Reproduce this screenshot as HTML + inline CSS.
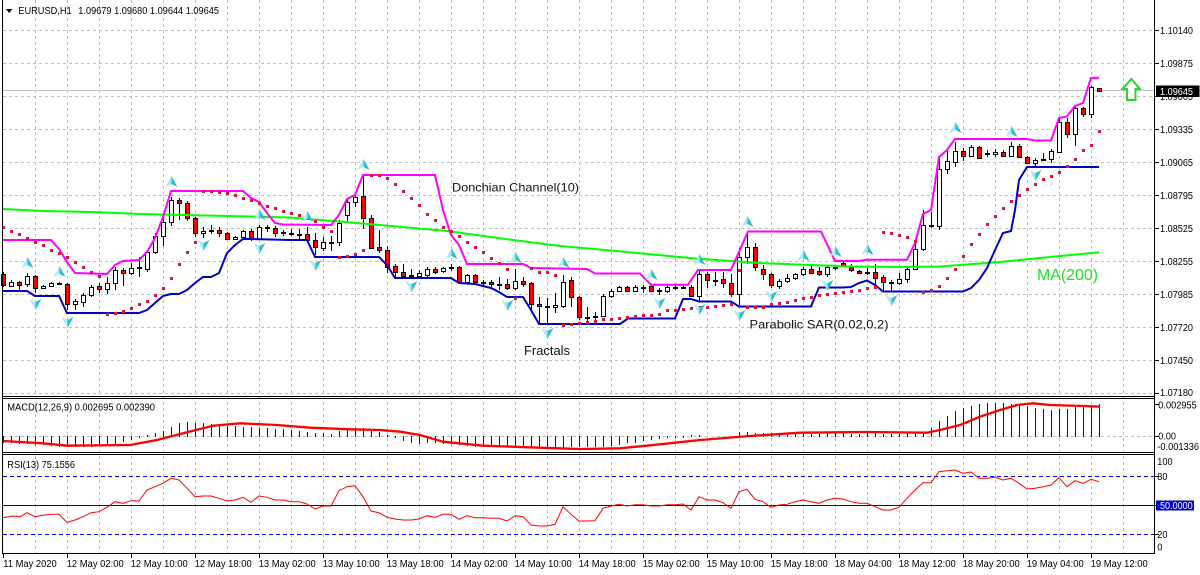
<!DOCTYPE html>
<html><head><meta charset="utf-8"><style>
html,body{margin:0;padding:0;background:#fff;}
svg{display:block;font-family:"Liberation Sans",Arial,sans-serif;}
</style></head><body>
<svg width="1200" height="575" viewBox="0 0 1200 575" xmlns="http://www.w3.org/2000/svg">
<rect width="1200" height="575" fill="#fff"/>
<!-- vertical grid -->
<path d="M35.5 0V553M67.5 0V553M99.5 0V553M131.5 0V553M163.5 0V553M195.5 0V553M227.5 0V553M259.5 0V553M291.5 0V553M323.5 0V553M355.5 0V553M387.5 0V553M419.5 0V553M451.5 0V553M483.5 0V553M515.5 0V553M547.5 0V553M579.5 0V553M611.5 0V553M643.5 0V553M675.5 0V553M707.5 0V553M739.5 0V553M771.5 0V553M803.5 0V553M835.5 0V553M867.5 0V553M899.5 0V553M931.5 0V553M963.5 0V553M995.5 0V553M1027.5 0V553M1059.5 0V553M1091.5 0V553M1123.5 0V553" stroke="#c0c0c0" stroke-width="1" stroke-dasharray="3 3" fill="none"/>
<!-- horizontal grid main -->
<path d="M3 30.5H1154M3 63.5H1154M3 96.5H1154M3 129.5H1154M3 162.5H1154M3 195.5H1154M3 228.5H1154M3 261.5H1154M3 294.5H1154M3 327.5H1154M3 360.5H1154M3 393.5H1154M3 436.5H1154" stroke="#c0c0c0" stroke-width="1" stroke-dasharray="3 3" fill="none"/>
<!-- current price line -->
<path d="M3 90.5H1154" stroke="#c0c0c0" stroke-width="1"/>

<!-- candles wicks -->
<path d="M3.5 272V287M11.5 280V287M19.5 281V290M27.5 273V287M35.5 275V293M43.5 285V289M51.5 282V287M59.5 282V285M67.5 283V310M75.5 299V310M83.5 293V307M91.5 285V297M99.5 283V293M107.5 277V294M115.5 267V290M123.5 268V286M131.5 263V275M139.5 257V277M147.5 250V272M155.5 233V254M163.5 216V246M171.5 197V226M179.5 198V220M187.5 201V221M195.5 217V237M203.5 227V238M211.5 225V234M219.5 227V237M227.5 232V240M235.5 236V240M243.5 230V239M251.5 229V241M259.5 225V240M267.5 225V232M275.5 226V237M283.5 230V236M291.5 229V236M299.5 229V239M307.5 227V242M315.5 233V255M323.5 237V251M331.5 236V251M339.5 220V246M347.5 198V221M355.5 196V207M363.5 176V229M371.5 215V249M379.5 230V253M387.5 246V273M395.5 264V277M403.5 264V279M411.5 269V278M419.5 270V278M427.5 267V277M435.5 267V274M443.5 267V273M451.5 264V271M459.5 266V283M467.5 274V283M475.5 274V284M483.5 280V286M491.5 280V287M499.5 277V290M507.5 279V290M515.5 269V290M523.5 277V287M531.5 282V313M539.5 297V323M547.5 298V323M555.5 293V313M563.5 275V308M571.5 277V307M579.5 296V320M587.5 307V321M595.5 312V321M603.5 294V317M611.5 289V298M619.5 286V292M627.5 286V292M635.5 285V292M643.5 285V293M651.5 285V292M659.5 288V295M667.5 286V293M675.5 285V290M683.5 286V289M691.5 285V297M699.5 271V301M707.5 272V288M715.5 272V286M723.5 272V288M731.5 274V297M739.5 248V305M747.5 233V264M755.5 243V271M763.5 265V280M771.5 273V288M779.5 279V289M787.5 274V283M795.5 273V280M803.5 267V276M811.5 265V274M819.5 267V276M827.5 265V277M835.5 265V270M843.5 262V267M851.5 264V272M859.5 270V274M867.5 268V275M875.5 264V285M883.5 275V292M891.5 280V292M899.5 273V285M907.5 267V283M915.5 242V270M923.5 210V251M931.5 212V228M939.5 157V230M947.5 151V174M955.5 142V167M963.5 148V161M971.5 145V157M979.5 146V159M987.5 150V157M995.5 149V157M1003.5 150V157M1011.5 142V157M1019.5 144V158M1027.5 156V164M1035.5 158V166M1043.5 153V160M1051.5 149V163M1059.5 118V153M1067.5 118V138M1075.5 106V146M1083.5 107V117M1091.5 86V118M1099.5 88V91" stroke="#000" stroke-width="1" fill="none"/>
<!-- doji -->
<path d="M57 284h5M137 268h5M209 231h5M265 228h5M281 233h5M289 234h5M297 235h5M329 243h5M409 276h5M449 268h5M481 283h5M497 285h5M545 307h5M585 318h5M593 317h5M641 288h5M657 291h5M673 288h5M681 288h5M713 281h5M833 268h5M865 273h5M889 283h5M929 226h5M985 154h5M1041 160h5" stroke="#000" stroke-width="2" fill="none"/>
<!-- white bodies -->
<g fill="#fff" stroke="#000" stroke-width="1">
<rect x="9.5" y="282.5" width="4" height="4"/><rect x="25.5" y="276.5" width="4" height="8"/><rect x="41.5" y="286.5" width="4" height="2"/><rect x="49.5" y="283.5" width="4" height="3"/><rect x="73.5" y="301.5" width="4" height="3"/><rect x="81.5" y="295.5" width="4" height="7"/><rect x="89.5" y="287.5" width="4" height="8"/><rect x="105.5" y="283.5" width="4" height="6"/><rect x="113.5" y="270.5" width="4" height="13"/><rect x="129.5" y="268.5" width="4" height="5"/><rect x="145.5" y="252.5" width="4" height="17"/><rect x="153.5" y="236.5" width="4" height="16"/><rect x="161.5" y="222.5" width="4" height="14"/><rect x="169.5" y="200.5" width="4" height="22"/><rect x="201.5" y="231.5" width="4" height="2"/><rect x="233.5" y="237.5" width="4" height="2"/><rect x="241.5" y="231.5" width="4" height="6"/><rect x="257.5" y="227.5" width="4" height="12"/><rect x="321.5" y="242.5" width="4" height="6"/><rect x="337.5" y="223.5" width="4" height="19"/><rect x="345.5" y="202.5" width="4" height="13"/><rect x="353.5" y="197.5" width="4" height="5"/><rect x="417.5" y="273.5" width="4" height="3"/><rect x="425.5" y="269.5" width="4" height="6"/><rect x="441.5" y="268.5" width="4" height="3"/><rect x="465.5" y="275.5" width="4" height="7"/><rect x="513.5" y="281.5" width="4" height="7"/><rect x="553.5" y="305.5" width="4" height="2"/><rect x="561.5" y="282.5" width="4" height="24"/><rect x="601.5" y="296.5" width="4" height="20"/><rect x="609.5" y="291.5" width="4" height="5"/><rect x="617.5" y="287.5" width="4" height="4"/><rect x="633.5" y="287.5" width="4" height="4"/><rect x="665.5" y="287.5" width="4" height="4"/><rect x="697.5" y="274.5" width="4" height="22"/><rect x="737.5" y="257.5" width="4" height="37"/><rect x="745.5" y="247.5" width="4" height="10"/><rect x="777.5" y="281.5" width="4" height="5"/><rect x="785.5" y="278.5" width="4" height="3"/><rect x="793.5" y="274.5" width="4" height="4"/><rect x="801.5" y="269.5" width="4" height="5"/><rect x="825.5" y="267.5" width="4" height="7"/><rect x="897.5" y="279.5" width="4" height="4"/><rect x="905.5" y="269.5" width="4" height="10"/><rect x="913.5" y="249.5" width="4" height="20"/><rect x="921.5" y="225.5" width="4" height="24"/><rect x="937.5" y="169.5" width="4" height="57"/><rect x="945.5" y="161.5" width="4" height="8"/><rect x="953.5" y="151.5" width="4" height="11"/><rect x="969.5" y="147.5" width="4" height="9"/><rect x="993.5" y="152.5" width="4" height="2"/><rect x="1009.5" y="146.5" width="4" height="10"/><rect x="1033.5" y="160.5" width="4" height="3"/><rect x="1049.5" y="151.5" width="4" height="8"/><rect x="1057.5" y="122.5" width="4" height="30"/><rect x="1073.5" y="108.5" width="4" height="26"/><rect x="1089.5" y="87.5" width="4" height="27"/>
</g>
<!-- red bodies -->
<g fill="#ff0000" stroke="#000" stroke-width="1">
<rect x="1.5" y="274.5" width="4" height="11"/><rect x="17.5" y="282.5" width="4" height="3"/><rect x="33.5" y="276.5" width="4" height="12"/><rect x="65.5" y="284.5" width="4" height="20"/><rect x="97.5" y="286.5" width="4" height="3"/><rect x="121.5" y="270.5" width="4" height="3"/><rect x="177.5" y="200.5" width="4" height="3"/><rect x="185.5" y="203.5" width="4" height="15"/><rect x="193.5" y="218.5" width="4" height="15"/><rect x="217.5" y="230.5" width="4" height="3"/><rect x="225.5" y="233.5" width="4" height="6"/><rect x="249.5" y="231.5" width="4" height="8"/><rect x="273.5" y="228.5" width="4" height="5"/><rect x="305.5" y="234.5" width="4" height="6"/><rect x="313.5" y="240.5" width="4" height="7"/><rect x="361.5" y="196.5" width="4" height="22"/><rect x="369.5" y="218.5" width="4" height="30"/><rect x="377.5" y="247.5" width="4" height="3"/><rect x="385.5" y="250.5" width="4" height="17"/><rect x="393.5" y="266.5" width="4" height="6"/><rect x="401.5" y="272.5" width="4" height="4"/><rect x="433.5" y="269.5" width="4" height="3"/><rect x="457.5" y="267.5" width="4" height="15"/><rect x="473.5" y="275.5" width="4" height="7"/><rect x="489.5" y="282.5" width="4" height="2"/><rect x="505.5" y="284.5" width="4" height="4"/><rect x="521.5" y="281.5" width="4" height="3"/><rect x="529.5" y="283.5" width="4" height="21"/><rect x="537.5" y="304.5" width="4" height="2"/><rect x="569.5" y="280.5" width="4" height="17"/><rect x="577.5" y="297.5" width="4" height="20"/><rect x="625.5" y="287.5" width="4" height="4"/><rect x="649.5" y="286.5" width="4" height="5"/><rect x="689.5" y="287.5" width="4" height="9"/><rect x="705.5" y="274.5" width="4" height="6"/><rect x="721.5" y="279.5" width="4" height="4"/><rect x="729.5" y="283.5" width="4" height="11"/><rect x="753.5" y="247.5" width="4" height="20"/><rect x="761.5" y="269.5" width="4" height="5"/><rect x="769.5" y="274.5" width="4" height="11"/><rect x="809.5" y="269.5" width="4" height="4"/><rect x="817.5" y="271.5" width="4" height="3"/><rect x="841.5" y="263.5" width="4" height="2"/><rect x="849.5" y="267.5" width="4" height="3"/><rect x="857.5" y="271.5" width="4" height="2"/><rect x="873.5" y="272.5" width="4" height="6"/><rect x="881.5" y="277.5" width="4" height="5"/><rect x="961.5" y="151.5" width="4" height="5"/><rect x="977.5" y="147.5" width="4" height="11"/><rect x="1001.5" y="152.5" width="4" height="4"/><rect x="1017.5" y="146.5" width="4" height="11"/><rect x="1025.5" y="157.5" width="4" height="6"/><rect x="1065.5" y="122.5" width="4" height="12"/><rect x="1081.5" y="108.5" width="4" height="6"/><rect x="1097.5" y="88.5" width="4" height="3"/>
</g>

<!-- MA 200 -->
<polyline points="3,209 43,211 90,212 140,214 227,216 290,217.5 333,221 380,225 447,231 513,240 560,246 627,252 695,258.5 760,263 850,266.5 900,267 940,266.5 1000,262 1040,258 1099,252.3" fill="none" stroke="#00ff00" stroke-width="2"/>
<!-- Donchian upper -->
<polyline points="3,240 51,240 59,249 67,262 75,273 107,274 115,265 123,261 139,260 147,252 155,238 163,217 171,191 243,191 251,198 259,202 267,213 275,223 283,224.5 331,225 339,215 347,199 355,195 363,175 435,175 443,210 451,235 459,245 467,264 523,264 531,268 587,269 595,273.5 640,273.5 651,284.7 688,284.7 698,270 731,270 748,231.5 821,231.5 835,261 859,261 867,259.7 907,259.7 915,243 923,214 931,210 939,157 947,150 955,139 1027,139 1035,140.5 1051,140.5 1059,118 1067,116.5 1075,106 1083,103 1091,78 1099,77.7" fill="none" stroke="#ff00ff" stroke-width="2"/>
<!-- Donchian lower -->
<polyline points="3,291 27,291 35,296 59,296 67,313 139,313 147,310 155,303 163,296 171,294 179,294 187,290 195,283 203,277 211,277 219,273 227,253 235,245 243,239 251,239 291,240 307,240 315,257 379,257 387,265 395,278 451,278 459,283 475,284 491,288 499,292 507,297 523,297 531,310 539,324 620,324 628,318.5 675,318.5 683,299 691,299 699,301.5 731,301.5 739,306.5 811,306.5 819,287.5 843,287.5 851,287 859,283 867,280.5 875,285 883,291.5 963,291.5 971,288 979,280 987,268 995,250 1003,233 1011,231 1015,210 1019,180 1027,167 1099,167" fill="none" stroke="#0000c8" stroke-width="2"/>

<!-- Parabolic SAR -->
<path fill="#dc143c" d="M2 226h3v3h-3zM10 230h3v3h-3zM18 233h3v3h-3zM26 237h3v3h-3zM34 241h3v3h-3zM42 244h3v3h-3zM50 249h3v3h-3zM58 252h3v3h-3zM66 256h3v3h-3zM74 261h3v3h-3zM82 266h3v3h-3zM90 271h3v3h-3zM98 275h3v3h-3zM106 313h3v3h-3zM114 312h3v3h-3zM122 310h3v3h-3zM130 307h3v3h-3zM138 303h3v3h-3zM146 300h3v3h-3zM154 294h3v3h-3zM162 287h3v3h-3zM170 277h3v3h-3zM178 263h3v3h-3zM186 251h3v3h-3zM194 241h3v3h-3zM202 190h3v3h-3zM210 190h3v3h-3zM218 191h3v3h-3zM226 192h3v3h-3zM234 194h3v3h-3zM242 197h3v3h-3zM250 199h3v3h-3zM258 202h3v3h-3zM266 205h3v3h-3zM274 207h3v3h-3zM282 210h3v3h-3zM290 212h3v3h-3zM298 214h3v3h-3zM306 217h3v3h-3zM314 220h3v3h-3zM322 226h3v3h-3zM330 230h3v3h-3zM338 256h3v3h-3zM346 255h3v3h-3zM354 253h3v3h-3zM362 249h3v3h-3zM370 174h3v3h-3zM378 174h3v3h-3zM386 177h3v3h-3zM394 183h3v3h-3zM402 190h3v3h-3zM410 197h3v3h-3zM418 204h3v3h-3zM426 213h3v3h-3zM434 219h3v3h-3zM442 226h3v3h-3zM450 230h3v3h-3zM458 235h3v3h-3zM466 241h3v3h-3zM474 246h3v3h-3zM482 251h3v3h-3zM490 257h3v3h-3zM498 262h3v3h-3zM506 268h3v3h-3zM514 297h3v3h-3zM530 267h3v3h-3zM538 271h3v3h-3zM546 271h3v3h-3zM554 274h3v3h-3zM562 324h3v3h-3zM570 323h3v3h-3zM578 322h3v3h-3zM586 321h3v3h-3zM594 320h3v3h-3zM602 318h3v3h-3zM610 318h3v3h-3zM618 317h3v3h-3zM626 316h3v3h-3zM634 315h3v3h-3zM642 314h3v3h-3zM650 314h3v3h-3zM658 313h3v3h-3zM666 309h3v3h-3zM674 309h3v3h-3zM682 308h3v3h-3zM690 307h3v3h-3zM698 306h3v3h-3zM706 306h3v3h-3zM714 305h3v3h-3zM722 304h3v3h-3zM730 303h3v3h-3zM738 269h3v3h-3zM746 306h3v3h-3zM754 306h3v3h-3zM762 306h3v3h-3zM770 303h3v3h-3zM778 302h3v3h-3zM786 301h3v3h-3zM794 299h3v3h-3zM802 297h3v3h-3zM810 296h3v3h-3zM818 294h3v3h-3zM826 293h3v3h-3zM834 292h3v3h-3zM842 291h3v3h-3zM850 290h3v3h-3zM858 289h3v3h-3zM866 287h3v3h-3zM874 286h3v3h-3zM882 231h3v3h-3zM890 232h3v3h-3zM898 234h3v3h-3zM906 236h3v3h-3zM914 240h3v3h-3zM922 291h3v3h-3zM930 289h3v3h-3zM938 285h3v3h-3zM946 277h3v3h-3zM954 268h3v3h-3zM962 255h3v3h-3zM970 243h3v3h-3zM978 233h3v3h-3zM986 223h3v3h-3zM994 215h3v3h-3zM1002 207h3v3h-3zM1010 200h3v3h-3zM1018 194h3v3h-3zM1026 188h3v3h-3zM1034 183h3v3h-3zM1042 178h3v3h-3zM1050 175h3v3h-3zM1058 171h3v3h-3zM1066 165h3v3h-3zM1074 158h3v3h-3zM1082 149h3v3h-3zM1090 144h3v3h-3zM1098 130h3v3h-3z"/>

<!-- Fractals up -->
<g>
<g transform="translate(27.5,263)"><path d="M0 -6L0 2L-6 5Z" fill="#a6ecf2"/><path d="M0 -6L6 5L0 2Z" fill="#2fbccc"/></g>
<g transform="translate(59.5,272)"><path d="M0 -6L0 2L-6 5Z" fill="#a6ecf2"/><path d="M0 -6L6 5L0 2Z" fill="#2fbccc"/></g>
<g transform="translate(171.5,182)"><path d="M0 -6L0 2L-6 5Z" fill="#a6ecf2"/><path d="M0 -6L6 5L0 2Z" fill="#2fbccc"/></g>
<g transform="translate(259.5,215)"><path d="M0 -6L0 2L-6 5Z" fill="#a6ecf2"/><path d="M0 -6L6 5L0 2Z" fill="#2fbccc"/></g>
<g transform="translate(307.5,217)"><path d="M0 -6L0 2L-6 5Z" fill="#a6ecf2"/><path d="M0 -6L6 5L0 2Z" fill="#2fbccc"/></g>
<g transform="translate(363.5,165)"><path d="M0 -6L0 2L-6 5Z" fill="#a6ecf2"/><path d="M0 -6L6 5L0 2Z" fill="#2fbccc"/></g>
<g transform="translate(451.5,254)"><path d="M0 -6L0 2L-6 5Z" fill="#a6ecf2"/><path d="M0 -6L6 5L0 2Z" fill="#2fbccc"/></g>
<g transform="translate(515.5,258)"><path d="M0 -6L0 2L-6 5Z" fill="#a6ecf2"/><path d="M0 -6L6 5L0 2Z" fill="#2fbccc"/></g>
<g transform="translate(563.5,263)"><path d="M0 -6L0 2L-6 5Z" fill="#a6ecf2"/><path d="M0 -6L6 5L0 2Z" fill="#2fbccc"/></g>
<g transform="translate(651.5,275)"><path d="M0 -6L0 2L-6 5Z" fill="#a6ecf2"/><path d="M0 -6L6 5L0 2Z" fill="#2fbccc"/></g>
<g transform="translate(699.5,260)"><path d="M0 -6L0 2L-6 5Z" fill="#a6ecf2"/><path d="M0 -6L6 5L0 2Z" fill="#2fbccc"/></g>
<g transform="translate(747.5,222)"><path d="M0 -6L0 2L-6 5Z" fill="#a6ecf2"/><path d="M0 -6L6 5L0 2Z" fill="#2fbccc"/></g>
<g transform="translate(803.5,256)"><path d="M0 -6L0 2L-6 5Z" fill="#a6ecf2"/><path d="M0 -6L6 5L0 2Z" fill="#2fbccc"/></g>
<g transform="translate(835.5,252)"><path d="M0 -6L0 2L-6 5Z" fill="#a6ecf2"/><path d="M0 -6L6 5L0 2Z" fill="#2fbccc"/></g>
<g transform="translate(867.5,250)"><path d="M0 -6L0 2L-6 5Z" fill="#a6ecf2"/><path d="M0 -6L6 5L0 2Z" fill="#2fbccc"/></g>
<g transform="translate(955.5,128)"><path d="M0 -6L0 2L-6 5Z" fill="#a6ecf2"/><path d="M0 -6L6 5L0 2Z" fill="#2fbccc"/></g>
<g transform="translate(1011.5,132)"><path d="M0 -6L0 2L-6 5Z" fill="#a6ecf2"/><path d="M0 -6L6 5L0 2Z" fill="#2fbccc"/></g>
</g>
<!-- Fractals down -->
<g>
<g transform="translate(35.5,304)"><path d="M0 6L0 -2L-6 -5Z" fill="#a6ecf2"/><path d="M0 6L6 -5L0 -2Z" fill="#2fbccc"/></g>
<g transform="translate(67.5,322)"><path d="M0 6L0 -2L-6 -5Z" fill="#a6ecf2"/><path d="M0 6L6 -5L0 -2Z" fill="#2fbccc"/></g>
<g transform="translate(203.5,245)"><path d="M0 6L0 -2L-6 -5Z" fill="#a6ecf2"/><path d="M0 6L6 -5L0 -2Z" fill="#2fbccc"/></g>
<g transform="translate(259.5,248)"><path d="M0 6L0 -2L-6 -5Z" fill="#a6ecf2"/><path d="M0 6L6 -5L0 -2Z" fill="#2fbccc"/></g>
<g transform="translate(315.5,265)"><path d="M0 6L0 -2L-6 -5Z" fill="#a6ecf2"/><path d="M0 6L6 -5L0 -2Z" fill="#2fbccc"/></g>
<g transform="translate(411.5,286)"><path d="M0 6L0 -2L-6 -5Z" fill="#a6ecf2"/><path d="M0 6L6 -5L0 -2Z" fill="#2fbccc"/></g>
<g transform="translate(507.5,305)"><path d="M0 6L0 -2L-6 -5Z" fill="#a6ecf2"/><path d="M0 6L6 -5L0 -2Z" fill="#2fbccc"/></g>
<g transform="translate(547.5,333)"><path d="M0 6L0 -2L-6 -5Z" fill="#a6ecf2"/><path d="M0 6L6 -5L0 -2Z" fill="#2fbccc"/></g>
<g transform="translate(659.5,303)"><path d="M0 6L0 -2L-6 -5Z" fill="#a6ecf2"/><path d="M0 6L6 -5L0 -2Z" fill="#2fbccc"/></g>
<g transform="translate(699.5,309)"><path d="M0 6L0 -2L-6 -5Z" fill="#a6ecf2"/><path d="M0 6L6 -5L0 -2Z" fill="#2fbccc"/></g>
<g transform="translate(739.5,315)"><path d="M0 6L0 -2L-6 -5Z" fill="#a6ecf2"/><path d="M0 6L6 -5L0 -2Z" fill="#2fbccc"/></g>
<g transform="translate(771.5,296)"><path d="M0 6L0 -2L-6 -5Z" fill="#a6ecf2"/><path d="M0 6L6 -5L0 -2Z" fill="#2fbccc"/></g>
<g transform="translate(827.5,285)"><path d="M0 6L0 -2L-6 -5Z" fill="#a6ecf2"/><path d="M0 6L6 -5L0 -2Z" fill="#2fbccc"/></g>
<g transform="translate(891.5,300)"><path d="M0 6L0 -2L-6 -5Z" fill="#a6ecf2"/><path d="M0 6L6 -5L0 -2Z" fill="#2fbccc"/></g>
<g transform="translate(1035.5,175)"><path d="M0 6L0 -2L-6 -5Z" fill="#a6ecf2"/><path d="M0 6L6 -5L0 -2Z" fill="#2fbccc"/></g>
</g>

<!-- chart labels -->
<text x="452" y="191.5" font-size="12" fill="#111" textLength="127" lengthAdjust="spacingAndGlyphs">Donchian Channel(10)</text>
<text x="524" y="355" font-size="13" fill="#111" textLength="46" lengthAdjust="spacingAndGlyphs">Fractals</text>
<text x="749.5" y="328.5" font-size="12" fill="#111" textLength="139" lengthAdjust="spacingAndGlyphs">Parabolic SAR(0.02,0.2)</text>
<text x="1037" y="280" font-size="16" fill="#22e022" textLength="61" lengthAdjust="spacingAndGlyphs">MA(200)</text>

<!-- green up arrow -->
<polygon points="1131.3,79 1140,89 1135.5,89 1135.5,100 1127,100 1127,89 1122.5,89" fill="#fff" stroke="#2bd42b" stroke-width="2" stroke-linejoin="miter"/>

<!-- title -->
<polygon points="6,9 12.5,9 9.25,13" fill="#000"/>
<text x="18.3" y="14" font-size="10" fill="#000" textLength="53.4" lengthAdjust="spacingAndGlyphs">EURUSD,H1</text>
<text x="78.3" y="14" font-size="10" fill="#000" textLength="140.7" lengthAdjust="spacingAndGlyphs">1.09679 1.09680 1.09644 1.09645</text>

<!-- MACD panel -->
<path fill="none" stroke="#0000e0" stroke-width="1" d="M3.5 436V443M11.5 436V443M19.5 436V444M27.5 436V444M35.5 436V445M43.5 436V445M51.5 436V446M59.5 436V447M67.5 436V447M75.5 436V447M83.5 436V447M91.5 436V447M99.5 436V446M107.5 436V445M115.5 436V444M123.5 436V442M131.5 436V440M139.5 436V438M147.5 437V435M155.5 437V433M163.5 437V431M171.5 437V427M179.5 437V423M187.5 437V422M195.5 437V423M203.5 437V423M211.5 437V424M219.5 437V425M227.5 437V426M235.5 437V426M243.5 437V427M251.5 437V427M259.5 437V428M267.5 437V428M275.5 437V429M283.5 437V429M291.5 437V430M299.5 437V431M307.5 437V432M315.5 437V433M323.5 437V433M331.5 437V434M339.5 437V431M347.5 437V430M355.5 437V428M363.5 437V428M371.5 437V429M379.5 437V432M387.5 437V435M395.5 436V438M403.5 436V441M411.5 436V443M419.5 436V444M427.5 436V443M435.5 436V443M443.5 436V444M451.5 436V444M459.5 436V445M467.5 436V446M475.5 436V447M483.5 436V447M491.5 436V447M499.5 436V447M507.5 436V447M515.5 436V447M523.5 436V447M531.5 436V447M539.5 436V447M547.5 436V448M555.5 436V449M563.5 436V448M571.5 436V447M579.5 436V447M587.5 436V447M595.5 436V447M603.5 436V447M611.5 436V446M619.5 436V445M627.5 436V443M635.5 436V443M643.5 436V441M651.5 436V440M659.5 436V439M667.5 436V438M675.5 436V438M683.5 436V438M691.5 437V435M699.5 437V435M739.5 437V432M747.5 437V432M755.5 437V433M763.5 437V433M771.5 437V433M779.5 437V434M787.5 437V433M795.5 437V434M803.5 437V434M811.5 437V434M819.5 437V434M827.5 437V433M835.5 437V433M843.5 437V433M851.5 437V434M859.5 437V434M867.5 437V433M875.5 437V433M883.5 437V434M891.5 437V434M899.5 437V434M907.5 437V433M915.5 437V433M923.5 437V432M931.5 437V428M939.5 437V421M947.5 437V416M955.5 437V411M963.5 437V408M971.5 437V406M979.5 437V404M987.5 437V403M995.5 437V403M1003.5 437V403M1011.5 437V404M1019.5 437V405M1027.5 437V406M1035.5 437V408M1043.5 437V409M1051.5 437V410M1059.5 437V409M1067.5 437V409M1075.5 437V407M1083.5 437V407M1091.5 437V407M1099.5 437V404"/>
<polyline points="3,441 43,443.3 67,445.7 130,445 157,440 187,432.3 213,425.7 240,423.3 277,425 310,427.7 350,429.3 380,430 400,431.7 420,435 443,441.7 483,445.7 540,447.7 580,449 620,448.3 660,444.3 700,440 750,436 800,432.7 866,432 927,432.7 940,430 960,425 980,416.7 1000,410 1017,405 1033,403.3 1050,405 1083,406 1100,406.7" fill="none" stroke="#ff0000" stroke-width="2.3"/>
<text x="7.3" y="410.5" font-size="10" fill="#000" textLength="147.7" lengthAdjust="spacingAndGlyphs">MACD(12,26,9) 0.002695 0.002390</text>

<!-- RSI panel -->
<path d="M3 476.5H1154M3 534.5H1154" stroke="#0000e6" stroke-width="1" stroke-dasharray="4 3" fill="none"/>
<path d="M3 505.5H1154" stroke="#0000c8" stroke-width="1" fill="none"/>
<polyline points="3,517.7 13,516 20,516.7 27,512.7 35,516.7 43,515.3 51,514.3 59,514.3 67,522.3 75,520 83,516.7 91,512.7 99,511.7 107,507.3 115,501.7 123,503.3 131,500.7 139,501 147,490 155,486.7 163,483.3 171,478.3 179,480 187,488.3 195,496.7 203,496 211,496 219,498.3 227,501 235,500 243,497.3 251,502.3 259,496 267,497.3 275,500 283,500 291,501.7 299,501.7 307,504 315,509 323,506 331,506 339,490.7 347,486.7 355,485.7 363,496.7 371,511 379,512.7 387,517.3 395,519 403,520 411,520 419,519 427,515.7 435,517.3 443,514.3 451,514.3 459,519.3 467,515.7 475,517.7 483,517.7 491,518.3 499,518.3 507,521 515,515.7 523,516.7 531,525 539,526 547,526 555,524.3 563,506.7 571,514.3 579,521 587,521 595,520.7 603,508.3 611,506 619,504.3 627,506 635,504.7 643,504.7 651,506 659,506 667,504.7 675,504.7 683,504 691,510 699,496.7 707,500 715,500 723,502.7 731,508.3 739,491.7 747,489.3 755,499.3 763,501.7 771,507.3 779,505 787,504.3 795,501.7 803,500 811,501.7 819,503.3 827,500 835,498.3 843,499 851,501.7 859,503.3 867,503.3 875,506.7 883,510 891,510 899,507.3 907,498.3 915,490 923,482.7 931,482.7 939,471.7 947,470.7 955,470 963,473.3 971,472 979,478.3 987,478.3 995,477.3 1003,480 1011,478.3 1019,483.3 1027,489 1035,488.3 1043,486.7 1051,485 1059,477.7 1067,486.7 1075,480.7 1083,483.3 1091,479.3 1099,481.7" fill="none" stroke="#ff0000" stroke-width="1"/>
<text x="7.3" y="468" font-size="10" fill="#000" textLength="67.7" lengthAdjust="spacingAndGlyphs">RSI(13) 75.1556</text>

<!-- panel borders -->
<path d="M2.5 0V553.5M1154.5 0V553.5M2 553.5H1155M2 396.5H1155M2 398.5H1155M2 452.5H1155M2 454.5H1155" stroke="#000" stroke-width="1" fill="none"/>
<!-- axis ticks -->
<path d="M1155 30.5h4M1155 63.5h4M1155 96.5h4M1155 129.5h4M1155 162.5h4M1155 195.5h4M1155 228.5h4M1155 261.5h4M1155 294.5h4M1155 327.5h4M1155 360.5h4M1155 393.5h4M1155 404.5h4M1155 436.5h4M1155 476.5h4M1155 505.5h4M1155 534.5h4M3.5 554V558M67.5 554V558M131.5 554V558M195.5 554V558M259.5 554V558M323.5 554V558M387.5 554V558M451.5 554V558M515.5 554V558M579.5 554V558M643.5 554V558M707.5 554V558M771.5 554V558M835.5 554V558M899.5 554V558M963.5 554V558M1027.5 554V558M1091.5 554V558" stroke="#000" stroke-width="1" fill="none"/>

<!-- price axis labels -->
<g font-size="10" fill="#000">
<text x="1160" y="33.8" textLength="33" lengthAdjust="spacingAndGlyphs">1.10140</text>
<text x="1160" y="66.8" textLength="33" lengthAdjust="spacingAndGlyphs">1.09875</text>
<text x="1160" y="99.8" textLength="33" lengthAdjust="spacingAndGlyphs">1.09605</text>
<text x="1160" y="132.8" textLength="33" lengthAdjust="spacingAndGlyphs">1.09335</text>
<text x="1160" y="165.8" textLength="33" lengthAdjust="spacingAndGlyphs">1.09065</text>
<text x="1160" y="198.8" textLength="33" lengthAdjust="spacingAndGlyphs">1.08795</text>
<text x="1160" y="231.8" textLength="33" lengthAdjust="spacingAndGlyphs">1.08525</text>
<text x="1160" y="264.8" textLength="33" lengthAdjust="spacingAndGlyphs">1.08255</text>
<text x="1160" y="297.8" textLength="33" lengthAdjust="spacingAndGlyphs">1.07985</text>
<text x="1160" y="330.8" textLength="33" lengthAdjust="spacingAndGlyphs">1.07720</text>
<text x="1160" y="363.8" textLength="33" lengthAdjust="spacingAndGlyphs">1.07450</text>
<text x="1160" y="395.8" textLength="33" lengthAdjust="spacingAndGlyphs">1.07180</text>
<text x="1158.3" y="408.3" textLength="38.4" lengthAdjust="spacingAndGlyphs">0.002955</text>
<text x="1158.3" y="439.5" textLength="17.7" lengthAdjust="spacingAndGlyphs">0.00</text>
<text x="1157.3" y="450" textLength="41.7" lengthAdjust="spacingAndGlyphs">-0.001336</text>
<text x="1157.3" y="465" textLength="15.3" lengthAdjust="spacingAndGlyphs">100</text>
<text x="1157.3" y="480" textLength="10.2" lengthAdjust="spacingAndGlyphs">80</text>
<text x="1157.3" y="537.8" textLength="10.2" lengthAdjust="spacingAndGlyphs">20</text>
<text x="1157.3" y="550.7" textLength="5.2" lengthAdjust="spacingAndGlyphs">0</text>
</g>
<!-- current price box -->
<rect x="1156" y="85.5" width="43.5" height="11.5" fill="#000"/>
<text x="1160" y="94.8" font-size="10" fill="#fff" textLength="33" lengthAdjust="spacingAndGlyphs">1.09645</text>
<!-- RSI 50 box -->
<rect x="1156" y="500.5" width="38" height="10" fill="#0000c8"/>
<text x="1160" y="509" font-size="10" fill="#fff" textLength="32.7" lengthAdjust="spacingAndGlyphs">50.0000</text>

<!-- time axis labels -->
<g font-size="10" fill="#000">
<text x="3.3" y="566.8" textLength="53.4" lengthAdjust="spacingAndGlyphs">11 May 2020</text>
<text x="66.7" y="566.8" textLength="57" lengthAdjust="spacingAndGlyphs">12 May 02:00</text>
<text x="130.7" y="566.8" textLength="57" lengthAdjust="spacingAndGlyphs">12 May 10:00</text>
<text x="194.7" y="566.8" textLength="57" lengthAdjust="spacingAndGlyphs">12 May 18:00</text>
<text x="258.7" y="566.8" textLength="57" lengthAdjust="spacingAndGlyphs">13 May 02:00</text>
<text x="322.7" y="566.8" textLength="57" lengthAdjust="spacingAndGlyphs">13 May 10:00</text>
<text x="386.7" y="566.8" textLength="57" lengthAdjust="spacingAndGlyphs">13 May 18:00</text>
<text x="450.7" y="566.8" textLength="57" lengthAdjust="spacingAndGlyphs">14 May 02:00</text>
<text x="514.7" y="566.8" textLength="57" lengthAdjust="spacingAndGlyphs">14 May 10:00</text>
<text x="578.7" y="566.8" textLength="57" lengthAdjust="spacingAndGlyphs">14 May 18:00</text>
<text x="642.7" y="566.8" textLength="57" lengthAdjust="spacingAndGlyphs">15 May 02:00</text>
<text x="706.7" y="566.8" textLength="57" lengthAdjust="spacingAndGlyphs">15 May 10:00</text>
<text x="770.7" y="566.8" textLength="57" lengthAdjust="spacingAndGlyphs">15 May 18:00</text>
<text x="834.7" y="566.8" textLength="57" lengthAdjust="spacingAndGlyphs">18 May 04:00</text>
<text x="898.7" y="566.8" textLength="57" lengthAdjust="spacingAndGlyphs">18 May 12:00</text>
<text x="962.7" y="566.8" textLength="57" lengthAdjust="spacingAndGlyphs">18 May 20:00</text>
<text x="1026.7" y="566.8" textLength="57" lengthAdjust="spacingAndGlyphs">19 May 04:00</text>
<text x="1090.7" y="566.8" textLength="57" lengthAdjust="spacingAndGlyphs">19 May 12:00</text>
</g>
</svg>
</body></html>
